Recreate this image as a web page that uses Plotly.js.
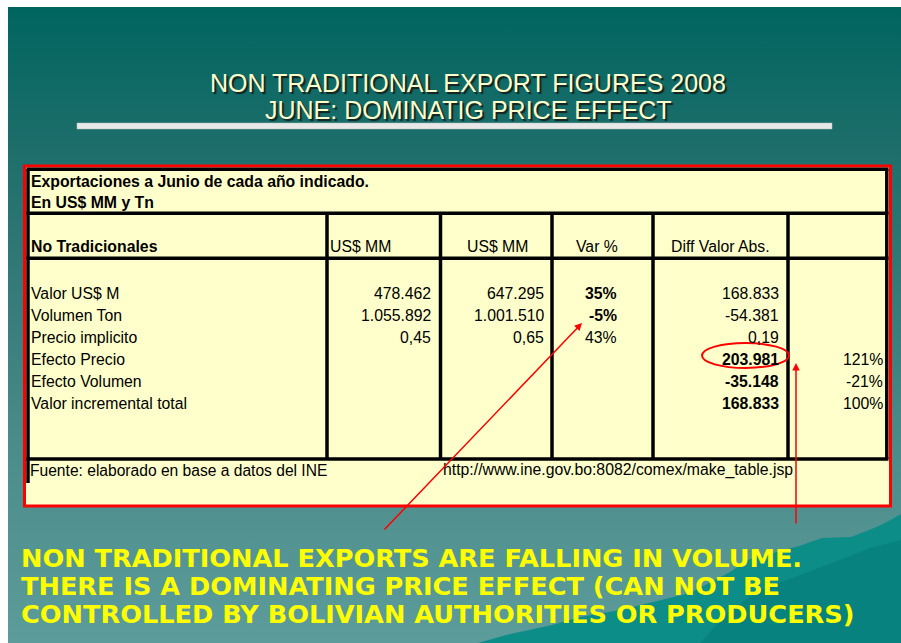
<!DOCTYPE html>
<html>
<head>
<meta charset="utf-8">
<script src="https://cdn.plot.ly/plotly-3.0.1.min.js"></script>
<style>
html,body{margin:0;padding:0;background:#ffffff;}
#wrap{position:relative;width:901px;height:643px;overflow:hidden;background:#ffffff;}
#bg{position:absolute;left:8px;top:7px;width:893px;height:636px;
  background:linear-gradient(to bottom,#00655f 0%,#1d6e6b 22%,#357b79 45%,#4b8d8b 70%,#5c9c9a 100%);}
#chart{position:absolute;left:0;top:0;width:901px;height:643px;}
</style>
</head>
<body>
<div id="wrap"><div id="bg"></div><div id="chart"></div></div>
<script>
// ---------------- DATA ----------------
const titleLines = ["NON TRADITIONAL EXPORT FIGURES 2008", "JUNE: DOMINATIG PRICE EFFECT"];
const tableHeader = ["Exportaciones a Junio de cada año indicado.", "En US$ MM y Tn"];
const columnHeaders = ["No Tradicionales", "US$ MM", "US$ MM", "Var %", "Diff Valor Abs.", ""];
const rowLabels = ["Valor US$ M", "Volumen Ton", "Precio implicito", "Efecto Precio", "Efecto Volumen", "Valor incremental total"];
const value2007 = [478462, 1055892, 0.45, null, null, null];
const value2008 = [647295, 1001510, 0.65, null, null, null];
const varPct = [35, -5, 43, null, null, null];
const diffAbs = [168833, -54381, 0.19, 203981, -35148, 168833];
const sharePct = [null, null, null, 121, -21, 100];
const sourceNote = ["Fuente: elaborado en base a datos del INE", "http://www.ine.gov.bo:8082/comex/make_table.jsp"];
const conclusion = ["NON TRADITIONAL EXPORTS ARE FALLING IN VOLUME.",
                    "THERE IS A DOMINATING PRICE EFFECT (CAN NOT BE",
                    "CONTROLLED BY BOLIVIAN AUTHORITIES OR PRODUCERS)"];

// ---------------- STYLE / LAYOUT ----------------
const boldVar = [true, true, false, false, false, false];
const boldDiff = [false, false, false, true, true, true];
const decimals = [0, 0, 2, 0, 0, 0];

function fmtNum(v, d) {
  if (v === null || v === undefined) return "";
  const neg = v < 0;
  let a = Math.abs(v);
  let s;
  if (d > 0) {
    s = a.toFixed(d).replace(".", ",");
  } else {
    s = Math.round(a).toString().replace(/\B(?=(\d{3})+(?!\d))/g, ".");
  }
  return (neg ? "-" : "") + s;
}
function fmtPct(v) { return (v === null || v === undefined) ? "" : v + "%"; }
function b(s, on) { return on && s ? "<b>" + s + "</b>" : s; }

const F = "Liberation Sans, Arial, sans-serif";
const annotations = [];
function txt(x, y, text, anchor, opts) {
  opts = opts || {};
  annotations.push({
    xref: "x", yref: "y", x: x, y: y, text: text, showarrow: false,
    xanchor: anchor, yanchor: "middle",
    font: Object.assign({family: F, size: 15.8, color: "#000000"}, opts.font || {}),
    borderpad: 0
  });
}

// title
const titleFont = {family: F, size: 25, color: "#ffffcc", shadow: "2px 2px 1px #142220"};
txt(468, 83, titleLines[0], "center", {font: titleFont});
txt(468, 110, titleLines[1], "center", {font: titleFont});

// table header
txt(30, 181, "<b>" + tableHeader[0] + "</b>", "left");
txt(30, 202.5, "<b>" + tableHeader[1] + "</b>", "left");
// column headers
const hdrY = 246;
txt(30, hdrY, "<b>" + columnHeaders[0] + "</b>", "left");
txt(329, hdrY, columnHeaders[1], "left");
txt(497, hdrY, columnHeaders[2], "center");
txt(597, hdrY, columnHeaders[3], "center");
txt(720, hdrY, columnHeaders[4], "center");

// rows
const rowY0 = 293, rowStep = 22;
rowLabels.forEach((lab, i) => {
  const y = rowY0 + i * rowStep;
  txt(30, y, lab, "left");
  txt(432, y, fmtNum(value2007[i], decimals[i]), "right");
  txt(545, y, fmtNum(value2008[i], decimals[i]), "right");
  txt(618, y, b(fmtPct(varPct[i]), boldVar[i]), "right");
  txt(780, y, b(fmtNum(diffAbs[i], decimals[i]), boldDiff[i]), "right");
  txt(884, y, fmtPct(sharePct[i]), "right");
});

// source
txt(29, 470, sourceNote[0], "left", {font: {size: 15.6}});
txt(442, 470, sourceNote[1], "left", {font: {size: 15.8}});

// conclusion
const concFont = {family: "DejaVu Sans, Verdana, sans-serif", size: 25.6, color: "#ffff00", weight: 700};
conclusion.forEach((line, i) => {
  txt(20, 558 + i * 28, "<b>" + line + "</b>", "left", {font: concFont});
});

// arrows
annotations.push({xref: "x", yref: "y", axref: "x", ayref: "y", x: 582, y: 323, ax: 383, ay: 531,
  showarrow: true, arrowhead: 2, arrowsize: 1, arrowwidth: 1.5, arrowcolor: "#ff0000", text: ""});
annotations.push({xref: "x", yref: "y", axref: "x", ayref: "y", x: 796, y: 363, ax: 796, ay: 525,
  showarrow: true, arrowhead: 2, arrowsize: 1, arrowwidth: 1.5, arrowcolor: "#ff0000", text: ""});

const shapes = [];
// mountain
shapes.push({type: "path", xref: "x", yref: "y", layer: "below",
  path: "M 478 643 L 506 635 L 552 625 L 580 617 L 620 610 L 690 593 L 730 572 L 747 560 L 799 546 L 822 538 L 851 537 L 874 528 L 885 523 L 901 514 L 901 643 Z",
  fillcolor: "#0d8d88", line: {width: 0}});
shapes.push({type: "path", xref: "x", yref: "y", layer: "below",
  path: "M 700 643 L 730 610 L 760 590 L 800 575 L 840 560 L 870 548 L 901 540 L 901 643 Z",
  fillcolor: "#08827e", line: {width: 0}});
// title underline
shapes.push({type: "rect", xref: "x", yref: "y", x0: 77, x1: 832, y0: 123, y1: 129,
  fillcolor: "#e8e8e8", line: {color: "#b8c4c2", width: 0.5}});
// table box
shapes.push({type: "rect", xref: "x", yref: "y", x0: 24.5, x1: 890.5, y0: 166, y1: 506,
  fillcolor: "#ffffcc", line: {color: "#ff0000", width: 3}});
function ln(x0, y0, x1, y1) {
  shapes.push({type: "line", xref: "x", yref: "y", x0: x0, y0: y0, x1: x1, y1: y1,
    line: {color: "#000000", width: 3.5}});
}
ln(26.5, 169.3, 888.5, 169.3);
ln(26.5, 213.3, 888.5, 213.3);
ln(26.5, 258.3, 888.5, 258.3);
ln(26.5, 459, 888.5, 459);
ln(28, 169.3, 28, 483);
ln(886.8, 169.3, 886.8, 459);
[327, 440.5, 552, 653, 788].forEach(x => ln(x, 213.3, x, 459));
// ellipse
shapes.push({type: "circle", xref: "x", yref: "y", x0: 702, x1: 789, y0: 343, y1: 368,
  line: {color: "#ff0000", width: 2}});

const layout = {
  width: 901, height: 643,
  margin: {l: 0, r: 0, t: 0, b: 0, pad: 0},
  paper_bgcolor: "rgba(0,0,0,0)", plot_bgcolor: "rgba(0,0,0,0)",
  xaxis: {range: [0, 901], visible: false, fixedrange: true},
  yaxis: {range: [643, 0], visible: false, fixedrange: true},
  showlegend: false,
  shapes: shapes,
  annotations: annotations
};
Plotly.newPlot("chart", [{type: "scatter", x: [], y: [], mode: "markers", hoverinfo: "skip"}], layout,
  {staticPlot: true, displayModeBar: false});
</script>
</body>
</html>
